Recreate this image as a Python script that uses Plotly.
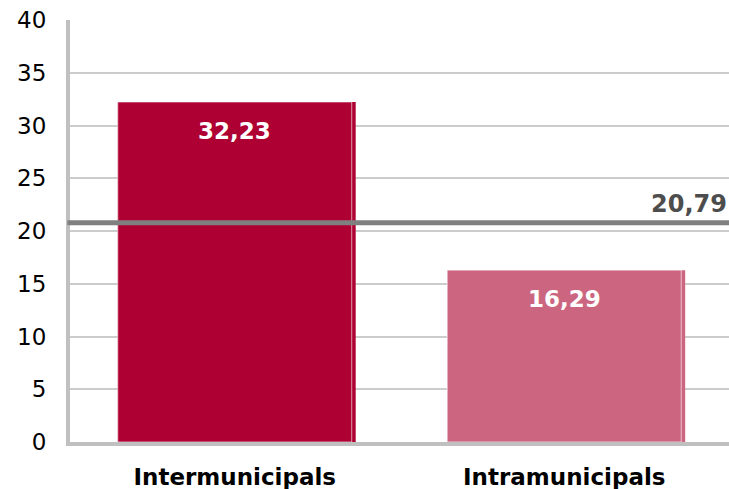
import plotly.graph_objects as go

# Données
categories = ["Intermunicipals", "Intramunicipals"]
valeurs = [32.23, 16.29]
couleurs = ["#AE0032", "#CC6680"]
moyenne = 20.79
y_ticks = [0, 5, 10, 15, 20, 25, 30, 35, 40]


def fmt(v):
    # virgule comme séparateur décimal
    return f"{v:.2f}".replace(".", ",")


fig = go.Figure()

# petite ombre à droite de chaque barre
fig.add_trace(go.Bar(
    x=categories, y=valeurs,
    width=0.722, offset=-0.355,
    marker=dict(color=couleurs, line=dict(width=0)),
    hoverinfo="skip", showlegend=False
))

# barres principales
fig.add_trace(go.Bar(
    x=categories, y=valeurs,
    width=0.71, offset=-0.355,
    marker=dict(color=couleurs, line=dict(color="rgba(255,255,255,0.6)", width=1)),
    showlegend=False
))

# étiquettes des barres
for cat, v in zip(categories, valeurs):
    fig.add_annotation(
        x=cat, y=v, text=f"<b>{fmt(v)}</b>",
        showarrow=False, yanchor="middle", yshift=-29,
        font=dict(family="DejaVu Sans", size=23, color="white")
    )

# ligne de moyenne
fig.add_shape(
    type="line", xref="paper", x0=-0.004, x1=1, yref="y", y0=moyenne, y1=moyenne,
    line=dict(color="#808080", width=5), layer="above"
)
fig.add_annotation(
    xref="paper", x=1, y=moyenne, text=f"<b>{fmt(moyenne)}</b>",
    showarrow=False, xanchor="right", yanchor="bottom", yshift=3,
    font=dict(family="DejaVu Sans", size=24, color="#4D4D4D")
)

fig.update_layout(
    width=729, height=489,
    margin=dict(l=70, r=0, t=20, b=47),
    plot_bgcolor="white", paper_bgcolor="white",
    barmode="overlay",
    font=dict(family="DejaVu Sans", color="black"),
)

fig.update_yaxes(
    range=[0, 40], tickvals=y_ticks,
    showgrid=True, gridcolor="#CCCCCC", gridwidth=2,
    showline=True, linecolor="#C0C0C0", linewidth=4,
    ticks="outside", ticklen=15, tickcolor="rgba(0,0,0,0)",
    tickfont=dict(size=23, color="black"), zeroline=False
)
fig.update_xaxes(
    showline=True, linecolor="#C0C0C0", linewidth=4,
    ticks="outside", ticklen=11, tickcolor="rgba(0,0,0,0)",
    tickfont=dict(size=23, color="black"),
    tickvals=categories, ticktext=[f"<b>{c}</b>" for c in categories]
)

# pas de marge autour de la page, pas de barre d'outils
fig.write_html("out.html", config={"displayModeBar": False},
               post_script="document.body.style.margin='0';")
